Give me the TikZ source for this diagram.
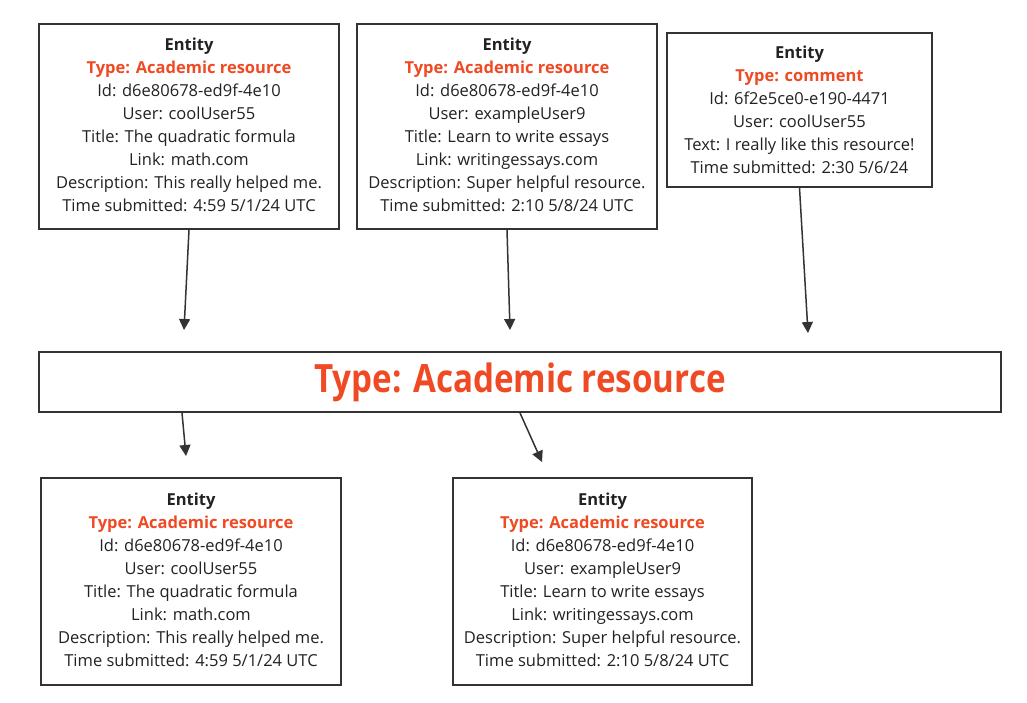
\documentclass[tikz,border=0pt]{standalone}
\usepackage{fontspec}
\setmainfont{Open Sans}
\newfontfamily\wideheadfont{Open Sans}[FakeStretch=0.85]
\usetikzlibrary{arrows.meta}
\definecolor{ink}{HTML}{222222}
\definecolor{edge}{HTML}{333333}
\definecolor{typered}{HTML}{F04A24}
\tikzset{
  entitybox/.style={draw=edge, line width=1.8pt, fill=white, inner sep=0pt,
    align=center, text=ink,
    font=\fontsize{16.5}{23}\selectfont},
  flow/.style={draw=edge, line width=1.5pt, -{Triangle[length=11pt,width=11pt]}},
}
\newcommand{\enthead}{{\bfseries Entity}\\}
\newcommand{\enttype}[1]{{\bfseries\color{typered}Type: #1}\\}
% deeper last line lifts the text block slightly inside the box
\newcommand{\lastdeep}{\rule[-4pt]{0pt}{4pt}}
\begin{document}
\begin{tikzpicture}[x=1pt,y=-1pt]
\useasboundingbox[fill=white] (0,0) rectangle (1027,702);

% upper entities
\node[entitybox, minimum width=300pt, minimum height=205pt] (e1) at (189,126.5)
  {\enthead\enttype{Academic resource}Id: d6e80678-ed9f-4e10\\User: coolUser55\\Title: The quadratic formula\\Link: math.com\\Description: This really helped me.\\Time submitted: 4:59 5/1/24 UTC\lastdeep};
\node[entitybox, minimum width=300pt, minimum height=205pt] (e2) at (507,126.5)
  {\enthead\enttype{Academic resource}Id: d6e80678-ed9f-4e10\\User: exampleUser9\\Title: Learn to write essays\\Link: writingessays.com\\Description: Super helpful resource.\\Time submitted: 2:10 5/8/24 UTC\lastdeep};
\node[entitybox, minimum width=265pt, minimum height=154pt] (e3) at (799.5,110)
  {\enthead\enttype{comment}Id: 6f2e5ce0-e190-4471\\User: coolUser55\\Text: I really like this resource!\\Time submitted: 2:30 5/6/24};

% filter bar
\node[draw=edge, line width=1.8pt, minimum width=962pt, minimum height=60pt, inner sep=0pt,
  text=typered, font=\wideheadfont\bfseries\fontsize{39}{40}\selectfont] (filter) at (520,382)
  {Type: Academic resource};

% lower entities
\node[entitybox, minimum width=300pt, minimum height=207pt] (e4) at (191,581.5)
  {\enthead\enttype{Academic resource}Id: d6e80678-ed9f-4e10\\User: coolUser55\\Title: The quadratic formula\\Link: math.com\\Description: This really helped me.\\Time submitted: 4:59 5/1/24 UTC\lastdeep};
\node[entitybox, minimum width=299pt, minimum height=207pt] (e5) at (602.5,581.5)
  {\enthead\enttype{Academic resource}Id: d6e80678-ed9f-4e10\\User: exampleUser9\\Title: Learn to write essays\\Link: writingessays.com\\Description: Super helpful resource.\\Time submitted: 2:10 5/8/24 UTC\lastdeep};

% arrow ends
\coordinate (t1) at (184,330);
\coordinate (t2) at (510,330);
\coordinate (t3) at (808,333);
\coordinate (t4) at (186,456);
\coordinate (t5) at (542,462);

\draw[flow] (e1.south) -- (t1);
\draw[flow] (e2.south) -- (t2);
\draw[flow] (e3.south) -- (t3);
\draw[flow] ([xshift=-338pt]filter.south) -- (t4);
\draw[flow] (filter.south) -- (t5);
\end{tikzpicture}
\end{document}
